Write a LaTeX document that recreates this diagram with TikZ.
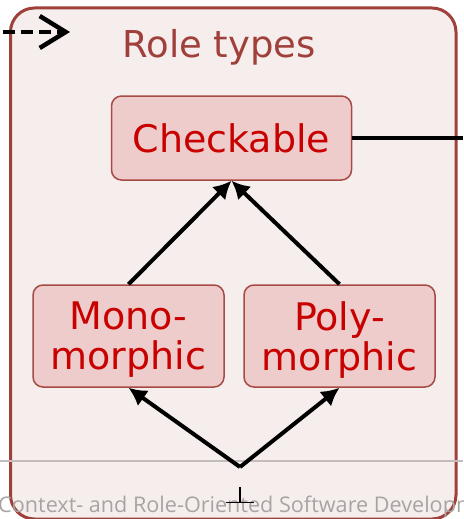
\documentclass[tikz,border=0pt]{standalone}
\usepackage{fontspec}
\setmainfont{DejaVu Sans}
\newfontfamily\podvalfont{Open Sans}
\usetikzlibrary{arrows.meta}

\definecolor{ramka}{HTML}{A0403A}
\definecolor{fon}{HTML}{F6EEED}
\definecolor{kraj}{HTML}{A84A44}
\definecolor{zalivka}{HTML}{EECCCB}
\definecolor{krasn}{HTML}{C80000}
\definecolor{seryj}{HTML}{A8A4A4}
\definecolor{liniya}{HTML}{C4BCBC}

\begin{document}
\begin{tikzpicture}[x=1pt, y=-1pt,
    role/.style={draw=kraj, fill=zalivka, line width=1.5pt, rounded corners=10pt,
        text=krasn, align=center, inner sep=0pt,
        font=\fontsize{38}{40}\selectfont},
    strelka/.style={-{Latex[length=18pt,width=19pt]}, line width=4pt}]
    \useasboundingbox (0,0) rectangle (463,519);

    % Рамка
    \draw[ramka, fill=fon, line width=3pt, rounded corners=24pt] (10.5,8) rectangle (456,519);
    \node[anchor=base, text=ramka, font=\fontsize{37}{40}\selectfont] (title) at (219,58) {Role types};

    % Полоса внизу и подпись
    \draw[liniya, line width=1.5pt] (0,461) -- (463,461);
    \node[anchor=base west, inner sep=0pt, text=seryj, font=\podvalfont\fontsize{21.6}{24}\selectfont] (podval) at (-2,512) {Context- and Role-Oriented Software Development};

    % Узлы
    \node[role, minimum width=240pt, minimum height=84pt] (check) at (231.5,138) {Checkable};
    \node[role, minimum width=191pt, minimum height=102pt, text depth=0pt] (mono) at (128.5,336) {Mono-\\morphic};
    \node[role, minimum width=191pt, minimum height=102pt, text depth=0pt] (poly) at (339.5,336) {Poly-\\morphic};
    \node[minimum width=28pt, minimum height=15pt, inner sep=0pt] (niz) at (240,494.5) {};
    \draw[line width=1.3pt] (niz.north) -- (niz.south) (niz.south west) -- (niz.south east);

    \coordinate (razvilka) at (240,467);
    \coordinate (vyhod) at (463,138);
    \coordinate (vhod) at (3,32);
    \coordinate (vhodK) at (70,32);

    % Стрелки
    \draw[strelka] (mono.north) -- (check.south);
    \draw[strelka] (poly.north) -- (check.south);
    \draw[strelka] (razvilka) -- (mono.south);
    \draw[strelka] (razvilka) -- (poly.south);
    \draw[line width=4pt] (check.east) -- (vyhod);
    \draw[line width=4.5pt, dash pattern=on 12pt off 6pt, -{Straight Barb[length=26pt,width=32pt]}] (vhod) -- (vhodK);
\end{tikzpicture}
\end{document}
